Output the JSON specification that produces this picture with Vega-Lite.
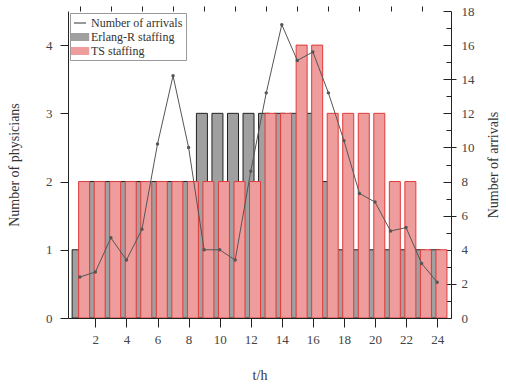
{
  "$schema": "https://vega.github.io/schema/vega-lite/v6.json",
  "width": 383,
  "height": 307,
  "autosize": "none",
  "padding": {"left": 68, "top": 11, "right": 55, "bottom": 67},
  "background": "white",
  "config": {
    "font": "Liberation Serif",
    "view": {"stroke": null},
    "axis": {"labelFont": "Liberation Serif", "titleFont": "Liberation Serif", "labelFontSize": 13, "titleFontSize": 14, "labelColor": "#444", "titleColor": "#333", "domainColor": "#222", "tickColor": "#222", "titleFontWeight": "normal", "grid": false},
    "legend": {"orient": "top-left", "offset": 2, "strokeColor": "#999", "padding": 3, "fillColor": "white", "labelFont": "Liberation Serif", "labelFontSize": 12, "labelColor": "#333", "rowPadding": 1, "symbolSize": 150, "title": null}
  },
  "data": {"values": [
    {"t": 1, "erlang": 1, "ts": 2, "arr": 2.4},
    {"t": 2, "erlang": 2, "ts": 2, "arr": 2.7},
    {"t": 3, "erlang": 2, "ts": 2, "arr": 4.7},
    {"t": 4, "erlang": 2, "ts": 2, "arr": 3.4},
    {"t": 5, "erlang": 2, "ts": 2, "arr": 5.2},
    {"t": 6, "erlang": 2, "ts": 2, "arr": 10.2},
    {"t": 7, "erlang": 2, "ts": 2, "arr": 14.2},
    {"t": 8, "erlang": 2, "ts": 2, "arr": 10.0},
    {"t": 9, "erlang": 3, "ts": 2, "arr": 4.0},
    {"t": 10, "erlang": 3, "ts": 2, "arr": 4.0},
    {"t": 11, "erlang": 3, "ts": 2, "arr": 3.4},
    {"t": 12, "erlang": 3, "ts": 2, "arr": 8.6},
    {"t": 13, "erlang": 3, "ts": 3, "arr": 13.2},
    {"t": 14, "erlang": 3, "ts": 3, "arr": 17.2},
    {"t": 15, "erlang": 3, "ts": 4, "arr": 15.1},
    {"t": 16, "erlang": 3, "ts": 4, "arr": 15.6},
    {"t": 17, "erlang": 2, "ts": 3, "arr": 13.2},
    {"t": 18, "erlang": 1, "ts": 3, "arr": 10.4},
    {"t": 19, "erlang": 1, "ts": 3, "arr": 7.3},
    {"t": 20, "erlang": 1, "ts": 3, "arr": 6.8},
    {"t": 21, "erlang": 1, "ts": 2, "arr": 5.1},
    {"t": 22, "erlang": 1, "ts": 2, "arr": 5.3},
    {"t": 23, "erlang": 1, "ts": 1, "arr": 3.2},
    {"t": 24, "erlang": 1, "ts": 1, "arr": 2.1}
  ]},
  "layer": [
    {
      "mark": {"type": "bar", "width": 11, "xOffset": -2.2, "stroke": "#222", "strokeWidth": 1, "clip": true},
      "encoding": {
        "x": {"field": "t", "type": "quantitative", "scale": {"domain": [0.56, 24.57], "nice": false, "zero": false},
          "axis": {"values": [2,4,6,8,10,12,14,16,18,20,22,24], "title": "t/h", "tickSize": 9, "labelPadding": 6, "titlePadding": 22, "labelFlush": false}},
        "y": {"field": "erlang", "type": "quantitative", "scale": {"domain": [0, 4.5], "nice": false},
          "axis": {"values": [0,1,2,3,4], "title": "Number of physicians", "tickSize": 8, "labelPadding": 8, "titlePadding": 24}},
        "color": {"datum": "Erlang-R staffing", "type": "nominal",
          "scale": {"domain": ["Number of arrivals", "Erlang-R staffing", "TS staffing"], "range": ["#555555", "#a0a0a0", "#ef9c9c"]},
          "legend": {"symbolType": "M-1.4,-0.55H1.4V0.55H-1.4Z", "symbolStrokeWidth": 1.2, "symbolStrokeColor": "#222",
            "encode": {"symbols": {"update": {
              "shape": [{"test": "datum.value === 'Number of arrivals'", "value": "stroke"}, {"value": "M-1.4,-0.55H1.4V0.55H-1.4Z"}],
              "fill": [{"test": "datum.value === 'Erlang-R staffing'", "value": "#c8c8c8"}, {"test": "datum.value === 'TS staffing'", "value": "#ef9c9c"}, {"value": "transparent"}],
              "stroke": [{"test": "datum.value === 'Erlang-R staffing'", "value": "#111"}, {"test": "datum.value === 'TS staffing'", "value": "#e03a3a"}, {"value": "#555"}]
            }}}}}
      }
    },
    {
      "mark": {"type": "bar", "width": 11, "xOffset": 4.3, "stroke": "#e03a3a", "strokeWidth": 1, "clip": true},
      "encoding": {
        "x": {"field": "t", "type": "quantitative", "axis": {"values": [1,3,5,7,9,11,13,15,17,19,21,23], "labels": false, "title": null, "domain": false, "tickSize": 5}},
        "y": {"field": "ts", "type": "quantitative", "scale": {"domain": [0, 4.5], "nice": false},
          "axis": {"values": [0.5,1.5,2.5,3.5], "labels": false, "title": null, "domain": false, "tickSize": 5}},
        "color": {"datum": "TS staffing", "type": "nominal"}
      }
    },
    {
      "mark": {"type": "line", "strokeWidth": 1, "point": {"filled": true, "size": 12}},
      "encoding": {
        "x": {"field": "t", "type": "quantitative", "axis": null},
        "y": {"field": "arr", "type": "quantitative", "scale": {"domain": [0, 18], "nice": false},
          "axis": {"orient": "right", "values": [0,2,4,6,8,10,12,14,16,18], "title": "Number of arrivals", "titleAngle": 270, "titleBaseline": "top", "tickSize": -8, "labelPadding": 18, "titlePadding": 12}},
        "color": {"datum": "Number of arrivals", "type": "nominal"}
      }
    },
    {
      "mark": {"type": "point", "opacity": 0},
      "encoding": {
        "x": {"field": "t", "type": "quantitative", "axis": null},
        "y": {"field": "arr", "type": "quantitative", "scale": {"domain": [0, 18], "nice": false},
          "axis": {"orient": "right", "values": [1,3,5,7,9,11,13,15,17], "labels": false, "title": null, "domain": false, "tickSize": -5}}
      }
    }
  ],
  "resolve": {"scale": {"y": "independent"}, "axis": {"x": "independent", "y": "independent"}}
}
